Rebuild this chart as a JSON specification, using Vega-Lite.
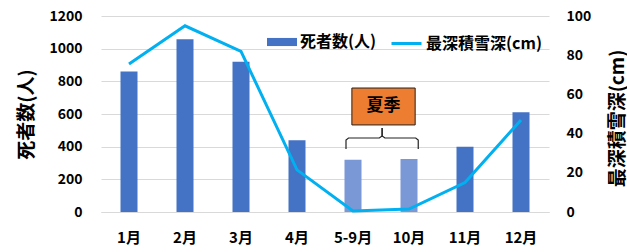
{
  "$schema": "https://vega.github.io/schema/vega-lite/v6.json",
  "width": 448,
  "height": 196,
  "autosize": {"type": "none"},
  "padding": {"left": 101, "top": 16, "right": 78, "bottom": 40},
  "background": "white",
  "config": {
    "font": "Noto Sans CJK JP",
    "view": {"stroke": null}
  },
  "datasets": {
    "main": [
      {"month": "1月", "deaths": 860, "snow": 75.5},
      {"month": "2月", "deaths": 1058, "snow": 95},
      {"month": "3月", "deaths": 920, "snow": 82},
      {"month": "4月", "deaths": 440, "snow": 21.5},
      {"month": "5-9月", "deaths": 320, "snow": 0.5},
      {"month": "10月", "deaths": 325, "snow": 1.5},
      {"month": "11月", "deaths": 400, "snow": 15},
      {"month": "12月", "deaths": 610, "snow": 47}
    ],
    "box": [
      {"x": 4.48, "x2": 5.61, "y": 533, "y2": 759, "label": "夏季", "tx": 5.045, "ty": 646}
    ],
    "brace": [
      {"part": "L", "o": 1, "x": 4.375, "y": 386},
      {"part": "L", "o": 2, "x": 4.375, "y": 440},
      {"part": "L", "o": 3, "x": 4.42, "y": 453},
      {"part": "L", "o": 4, "x": 4.97, "y": 453},
      {"part": "L", "o": 5, "x": 5.02, "y": 466},
      {"part": "L", "o": 6, "x": 5.02, "y": 514},
      {"part": "R", "o": 1, "x": 5.665, "y": 386},
      {"part": "R", "o": 2, "x": 5.665, "y": 440},
      {"part": "R", "o": 3, "x": 5.62, "y": 453},
      {"part": "R", "o": 4, "x": 5.07, "y": 453},
      {"part": "R", "o": 5, "x": 5.02, "y": 466},
      {"part": "R", "o": 6, "x": 5.02, "y": 514}
    ]
  },
  "layer": [
    {
      "data": {"name": "main"},
      "mark": {"type": "bar", "width": 17},
      "encoding": {
        "x": {
          "field": "month", "type": "ordinal", "sort": null,
          "scale": {"type": "band", "domain": ["1月", "2月", "3月", "4月", "5-9月", "10月", "11月", "12月"], "paddingInner": 0, "paddingOuter": 0},
          "axis": {"title": null, "labelAngle": 0, "labelFontSize": 15, "labelFontWeight": "bold", "labelColor": "#000", "ticks": false, "domainColor": "#D9D9D9", "labelPadding": 18, "grid": false}
        },
        "y": {
          "field": "deaths", "type": "quantitative",
          "scale": {"domain": [0, 1200]},
          "axis": {"title": "死者数(人)", "format": "d", "titleFontSize": 19, "titleFontWeight": "bold", "titleColor": "#000", "titlePadding": 12, "values": [0, 200, 400, 600, 800, 1000, 1200], "labelFontSize": 14, "labelFontWeight": "bold", "labelColor": "#000", "labelPadding": 19, "ticks": false, "domain": false, "gridColor": "#D9D9D9"}
        },
        "fill": {
          "condition": {"test": "datum.month === '5-9月' || datum.month === '10月'", "value": "#7B98D6"},
          "datum": "死者数(人)",
          "scale": {"domain": ["死者数(人)"], "range": ["#4472C4"]},
          "legend": {"title": null, "orient": "none", "legendX": 166, "legendY": 11, "padding": 0, "symbolType": "M-1,-0.27H1V0.27H-1Z", "symbolSize": 900, "symbolStrokeWidth": 0, "labelFontSize": 16, "labelFontWeight": "bold", "labelColor": "#000", "labelOffset": 3}
        }
      }
    },
    {
      "data": {"name": "main"},
      "mark": {"type": "line", "strokeWidth": 3},
      "encoding": {
        "x": {
          "field": "month", "type": "ordinal", "sort": null, "bandPosition": 0.5,
          "scale": {"type": "band", "domain": ["1月", "2月", "3月", "4月", "5-9月", "10月", "11月", "12月"], "paddingInner": 0, "paddingOuter": 0},
          "axis": null
        },
        "y": {
          "field": "snow", "type": "quantitative",
          "scale": {"domain": [0, 100]},
          "axis": {"orient": "right", "title": "最深積雪深(cm)", "titleAngle": 270, "titleX": 68, "titleY": 102, "titleAlign": "center", "titleBaseline": "middle", "titleFontSize": 19, "titleFontWeight": "bold", "titleColor": "#000", "values": [0, 20, 40, 60, 80, 100], "labelFontSize": 14, "labelFontWeight": "bold", "labelColor": "#000", "labelPadding": 17, "ticks": false, "domain": false, "grid": false}
        },
        "stroke": {
          "datum": "最深積雪深(cm)",
          "scale": {"domain": ["最深積雪深(cm)"], "range": ["#00B0F0"]},
          "legend": {"title": null, "orient": "none", "legendX": 289, "legendY": 11, "padding": 0, "symbolType": "stroke", "symbolSize": 900, "symbolStrokeWidth": 3, "labelFontSize": 16, "labelFontWeight": "bold", "labelColor": "#000", "labelOffset": 3}
        }
      }
    },
    {
      "data": {"name": "box"},
      "mark": {"type": "rect", "fill": "#ED7D31", "stroke": "#222", "strokeWidth": 1},
      "encoding": {
        "x": {"field": "x", "type": "quantitative", "scale": {"domain": [0, 8], "nice": false}, "axis": null},
        "x2": {"field": "x2"},
        "y": {"field": "y", "type": "quantitative", "scale": {"domain": [0, 1200], "nice": false}, "axis": null},
        "y2": {"field": "y2"}
      }
    },
    {
      "data": {"name": "box"},
      "mark": {"type": "text", "fontSize": 17, "fontWeight": "bold", "color": "#000", "baseline": "middle", "align": "center"},
      "encoding": {
        "x": {"field": "tx", "type": "quantitative", "scale": {"domain": [0, 8], "nice": false}, "axis": null},
        "y": {"field": "ty", "type": "quantitative", "scale": {"domain": [0, 1200], "nice": false}, "axis": null},
        "text": {"field": "label"}
      }
    },
    {
      "data": {"name": "brace"},
      "mark": {"type": "line", "stroke": "#222", "strokeWidth": 1.2},
      "encoding": {
        "x": {"field": "x", "type": "quantitative", "scale": {"domain": [0, 8], "nice": false}, "axis": null},
        "y": {"field": "y", "type": "quantitative", "scale": {"domain": [0, 1200], "nice": false}, "axis": null},
        "detail": {"field": "part"},
        "order": {"field": "o"}
      }
    }
  ],
  "resolve": {"scale": {"x": "independent", "y": "independent"}}
}
